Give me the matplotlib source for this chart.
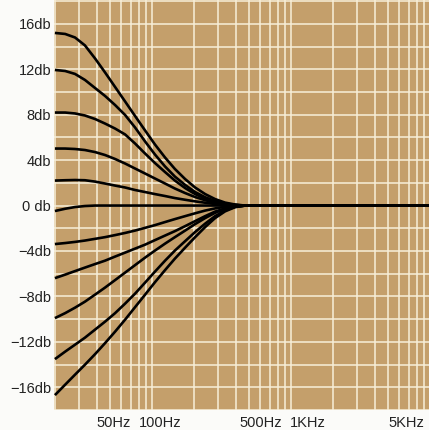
import numpy as np
import matplotlib.pyplot as plt

plt.rcParams['font.family'] = ['Liberation Sans', 'DejaVu Sans']

# frequency samples (axis units, log scale)
freq = [20, 23.7, 27.9, 32.9, 38.9, 45.9, 54.2, 64, 75.5, 89.1, 105, 124,
        146, 173, 204, 241, 284, 335, 396, 467, 10000]

# response curves in db, top to bottom
boost_15 = [15.20, 15.11, 14.80, 14.10, 12.95, 11.72, 10.44, 9.16, 7.88, 6.61, 5.37,
            4.23, 3.22, 2.33, 1.59, 1.01, 0.57, 0.26, 0.09, 0, 0]
boost_12 = [11.94, 11.85, 11.59, 11.06, 10.35, 9.65, 8.85, 7.97, 6.87, 5.64, 4.49,
            3.44, 2.55, 1.81, 1.19, 0.73, 0.40, 0.18, 0.05, 0, 0]
boost_8 = [8.19, 8.19, 8.11, 7.93, 7.62, 7.22, 6.78, 6.26, 5.46, 4.58, 3.74,
           2.95, 2.20, 1.54, 1.01, 0.62, 0.33, 0.15, 0.04, 0, 0]
boost_5 = [5.02, 5.02, 4.98, 4.89, 4.71, 4.45, 4.10, 3.70, 3.26, 2.82, 2.38,
           1.94, 1.50, 1.10, 0.75, 0.47, 0.26, 0.11, 0.04, 0, 0]
boost_2 = [2.20, 2.23, 2.25, 2.23, 2.11, 1.94, 1.76, 1.59, 1.37, 1.19, 1.01,
           0.84, 0.66, 0.51, 0.37, 0.25, 0.14, 0.06, 0.02, 0, 0]
flat = [-0.48, -0.28, -0.13, -0.04, 0, 0, 0, 0, 0, 0, 0,
        0, 0, 0, 0, 0, 0, 0, 0, 0, 0]
cut_3 = [-3.39, -3.30, -3.20, -3.08, -2.93, -2.78, -2.60, -2.41, -2.20, -1.96, -1.72,
         -1.45, -1.19, -0.93, -0.68, -0.44, -0.25, -0.11, -0.03, 0, 0]
cut_6 = [-6.39, -6.08, -5.77, -5.46, -5.15, -4.85, -4.49, -4.14, -3.79, -3.44, -3.04,
         -2.64, -2.25, -1.81, -1.37, -0.93, -0.53, -0.25, -0.07, 0, 0]
cut_10 = [-9.91, -9.47, -8.99, -8.46, -7.84, -7.22, -6.56, -5.90, -5.24, -4.58, -3.96,
          -3.35, -2.78, -2.20, -1.63, -1.10, -0.64, -0.29, -0.09, 0, 0]
cut_13 = [-13.52, -12.86, -12.25, -11.63, -10.92, -10.22, -9.47, -8.63, -7.75, -6.78, -5.81,
          -4.85, -3.96, -3.13, -2.33, -1.59, -0.93, -0.42, -0.11, 0, 0]
cut_17 = [-16.69, -15.77, -14.89, -14.01, -13.08, -12.11, -11.10, -10.04, -8.94, -7.84, -6.74,
          -5.68, -4.67, -3.70, -2.78, -1.89, -1.10, -0.51, -0.14, 0, 0]

curves = [boost_15, boost_12, boost_8, boost_5, boost_2, flat,
          cut_3, cut_6, cut_10, cut_13, cut_17]

y_ticks = [16, 12, 8, 4, 0, -4, -8, -12, -16]
y_labels = ["16db", "12db", "8db", "4db", "0 db", "−4db", "−8db", "−12db", "−16db"]

x_tick_pos = [53.3, 114, 609, 1325, 6700]
x_labels = ["50Hz", "100Hz", "500Hz", "1KHz", "5KHz"]

fig = plt.figure(figsize=(4.29, 4.30), dpi=100)
fig.patch.set_facecolor("#fbfbf9")
ax = fig.add_axes([54 / 429, 1 - 410 / 430, 1 - 54 / 429, 410 / 430])
ax.set_facecolor("#c49f6b")

ax.set_xscale("log")
ax.set_xlim(19.7, 9820)
ax.set_ylim(-18.0, 18.1)

# log paper grid
grid_col = "#f8efd9"
for d in [10, 100, 1000]:
    for k in range(1, 10):
        ax.axvline(k * d, color=grid_col, lw=1.1, zorder=1)
for yv in range(-18, 19, 2):
    ax.axhline(yv, color=grid_col, lw=1.1, zorder=1)

for c in curves:
    ax.plot(freq, c, color="black", lw=1.9, zorder=3,
            solid_joinstyle="round", solid_capstyle="butt")

ax.set_xticks(x_tick_pos, x_labels)
ax.xaxis.set_minor_locator(plt.NullLocator())
ax.set_yticks(y_ticks, y_labels)
ax.tick_params(length=0, labelsize=10.5, colors="#222222")
ax.tick_params(axis="x", pad=4)
ax.tick_params(axis="y", pad=2)
for s in ax.spines.values():
    s.set_visible(False)

fig.savefig("out.png", dpi=100, facecolor=fig.get_facecolor())
